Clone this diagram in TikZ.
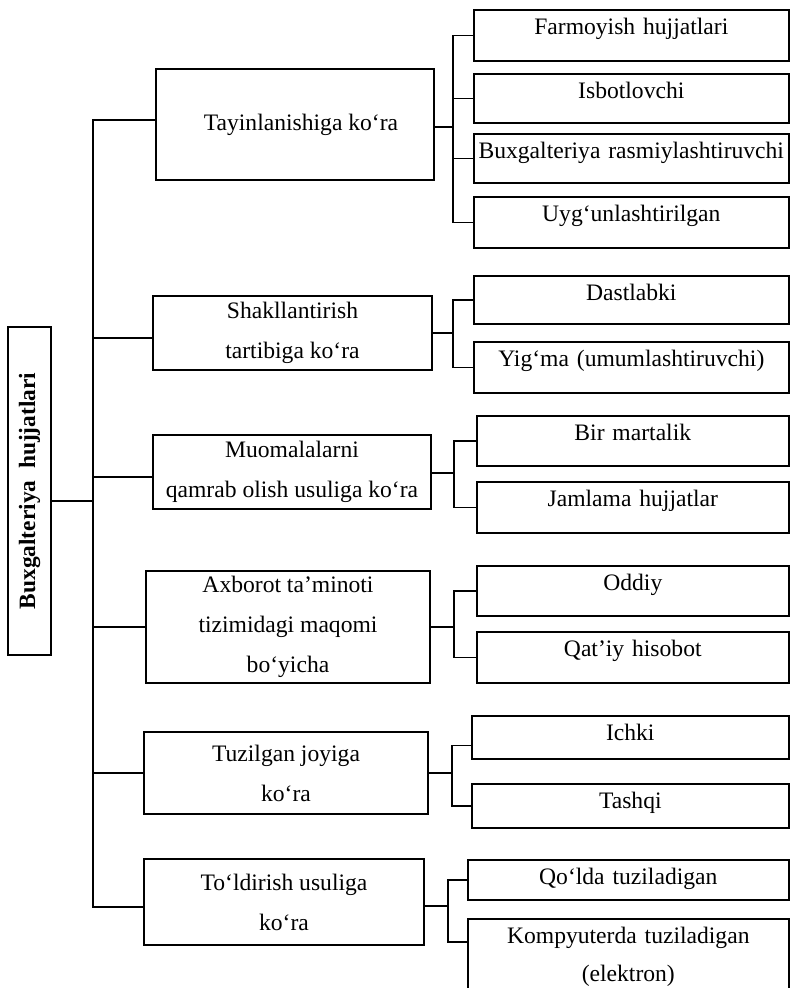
\documentclass[tikz,border=0pt]{standalone}
\usepackage{fontspec}
\setmainfont{Liberation Serif}
\begin{document}
\begin{tikzpicture}[x=1pt,y=-1pt,line width=1.6pt,
    krit/.style={draw,align=center,inner sep=0pt,font=\fontsize{23.6}{40}\selectfont},
    hoja/.style={draw,anchor=north west,align=center,inner sep=0pt,
      text height=25pt,text depth=#1pt,font=\fontsize{23.6}{38}\selectfont}]
            \useasboundingbox (0,0) rectangle (790,988);
            \node[draw,rotate=90,minimum width=328pt,minimum height=43pt,inner sep=0pt,
              font=\fontsize{23.4}{28}\selectfont\bfseries] (nodo0) at (29.5,491) {Buxgalteriya\ \ hujjatlari};
            \node[krit,minimum width=278pt,minimum height=111pt] (nodo1) at (295,124.5) {\hspace*{12pt}Tayinlanishiga ko‘ra};
            \node[krit,minimum width=279pt,minimum height=74pt] (nodo2) at (292.5,333) {Shakllantirish\\tartibiga ko‘ra};
            \node[krit,minimum width=278pt,minimum height=74pt] (nodo3) at (292,472) {Muomalalarni\\qamrab olish usuliga ko‘ra};
            \node[krit,minimum width=284pt,minimum height=112pt] (nodo4) at (288,627) {Axborot ta’minoti\\tizimidagi maqomi\\bo‘yicha};
            \node[krit,minimum width=284pt,minimum height=82pt] (nodo5) at (286,773) {Tuzilgan joyiga\\ko‘ra};
            \node[krit,minimum width=280pt,minimum height=86pt] (nodo6) at (284,902) {To‘ldirish usuliga\\ko‘ra};
            \node[hoja=26,text width=315pt] (nodo11) at (473,9) {Farmoyish hujjatlari};
            \node[hoja=24,text width=315pt] (nodo12) at (473,73) {Isbotlovchi};
            \node[hoja=24,text width=315pt] (nodo13) at (473,133) {Buxgalteriya rasmiylashtiruvchi};
            \node[hoja=26,text width=315pt] (nodo14) at (473,196) {Uyg‘unlashtirilgan};
            \node[hoja=23,text width=315pt] (nodo21) at (473,275) {Dastlabki};
            \node[hoja=26,text width=315pt] (nodo22) at (473,341) {Yig‘ma (umumlashtiruvchi)};
            \node[hoja=25,text width=312pt] (nodo31) at (476,415) {Bir martalik};
            \node[hoja=26,text width=312pt] (nodo32) at (476,481) {Jamlama hujjatlar};
            \node[hoja=25,text width=312pt] (nodo41) at (476,565) {Oddiy};
            \node[hoja=26,text width=312pt] (nodo42) at (476,631) {Qat’iy hisobot};
            \node[hoja=18,text width=317pt] (nodo51) at (471,715) {Ichki};
            \node[hoja=19,text width=317pt] (nodo52) at (471,783) {Tashqi};
            \node[hoja=15,text width=321pt] (nodo61) at (467,859) {Qo‘lda tuziladigan};
            \node[hoja=90,text width=321pt] (nodo62) at (467,918) {Kompyuterda tuziladigan\\(elektron)};
            \coordinate (tronco) at (93,491);
            \coordinate (bus1) at (453,127);
            \coordinate (bus2) at (453,333);
            \coordinate (bus3) at (454,473);
            \coordinate (bus4) at (454,627);
            \coordinate (bus5) at (452,773);
            \coordinate (bus6) at (448,906);
            \draw ([yshift=-10pt]nodo0.south) -- ([yshift=-10pt]nodo0.south -| tronco);
            \draw ([yshift=4.5pt]nodo1.west) -| (tronco) |- ([yshift=-5pt]nodo6.west);
            \draw ([yshift=-5pt]nodo2.west) -- ([yshift=-5pt]nodo2.west -| tronco);
            \draw ([yshift=-5pt]nodo3.west) -- ([yshift=-5pt]nodo3.west -| tronco);
            \draw (nodo4.west) -- (nodo4.west -| tronco);
            \draw (nodo5.west) -- (nodo5.west -| tronco);
            \draw (nodo1.east |- bus1) -- (bus1);
            \draw (nodo11.west) -| (bus1) |- (nodo14.west);
            \draw (nodo12.west) -- (nodo12.west -| bus1);
            \draw (nodo13.west) -- (nodo13.west -| bus1);
            \draw (nodo2.east |- bus2) -- (bus2);
            \draw (nodo21.west) -| (bus2) |- (nodo22.west);
            \draw (nodo3.east |- bus3) -- (bus3);
            \draw (nodo31.west) -| (bus3) |- (nodo32.west);
            \draw (nodo4.east |- bus4) -- (bus4);
            \draw (nodo41.west) -| (bus4) |- (nodo42.west);
            \draw (nodo5.east |- bus5) -- (bus5);
            \draw ([yshift=-8pt]nodo51.west) -| (bus5) |- (nodo52.west);
            \draw (nodo6.east |- bus6) -- (bus6);
            \draw (nodo61.west) -| (bus6) |- ([yshift=-24pt]nodo62.north west);
        \end{tikzpicture}
\end{document}
